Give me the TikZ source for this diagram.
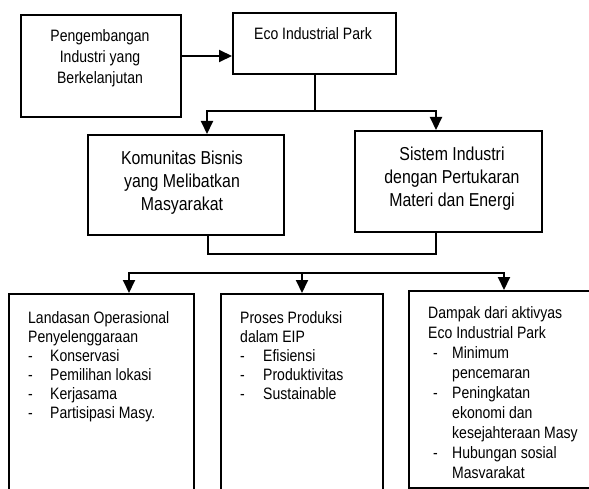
\documentclass[tikz,border=0pt]{standalone}
\usepackage{fontspec}
\setmainfont[FakeStretch=0.85]{Liberation Sans}
\usetikzlibrary{arrows.meta}
\newcommand\itmA[1]{\makebox[22pt][l]{-}#1}
\newcommand\itmB[1]{\makebox[23pt][l]{-}#1}
\newcommand\itmC[1]{\makebox[24pt][l]{\hspace*{5pt}-}#1}
\newcommand\contC[1]{\makebox[24pt]{}#1}
\begin{document}
\begin{tikzpicture}[x=1pt,y=-1pt,
  box/.style={draw,line width=2pt,inner sep=0pt,anchor=north west},
  conn/.style={line width=2pt},
  arr/.style={conn,-{Triangle[length=13pt,width=12pt]}},
  txt/.style={inner sep=0pt,font=\fontsize{16.5}{21}\selectfont,align=center},
  big/.style={inner sep=0pt,font=\fontsize{18.7}{23}\selectfont,align=center},
  lst/.style={inner sep=0pt,anchor=north west,font=\fontsize{16.5}{19}\selectfont,align=left}]
\useasboundingbox (0,0) rectangle (589,489);
\clip (0,0) rectangle (589,489);
% boxes
\node[box,minimum width=160pt,minimum height=102pt] (b1) at (20,14) {};
\node[box,minimum width=163pt,minimum height=61pt] (b2) at (232,12) {};
\node[box,minimum width=196pt,minimum height=100pt] (b3) at (87,134) {};
\node[box,minimum width=187pt,minimum height=101pt] (b4) at (354,130) {};
\node[box,minimum width=185pt,minimum height=210pt] (b5) at (8,293) {};
\node[box,minimum width=162pt,minimum height=210pt] (b6) at (220,293) {};
\node[box,minimum width=190pt,minimum height=197pt] (b7) at (408,290) {};
% texts
\node[txt] (t1) at (100,58) {Pengembangan\\Industri yang\\Berkelanjutan};
\node[txt] (t2) at (313,34) {Eco Industrial Park};
\node[big] (t3) at (182,183) {Komunitas Bisnis\\yang Melibatkan\\Masyarakat};
\node[big] (t4) at (452,179) {Sistem Industri\\dengan Pertukaran\\Materi dan Energi};
\node[lst] (t5) at (28,311) {Landasan Operasional\\Penyelenggaraan\\\itmA{Konservasi}\\\itmA{Pemilihan lokasi}\\\itmA{Kerjasama}\\\itmA{Partisipasi Masy.}};
\node[lst] (t6) at (240,311) {Proses Produksi\\dalam EIP\\\itmB{Efisiensi}\\\itmB{Produktivitas}\\\itmB{Sustainable}};
\node[lst,font=\fontsize{16.5}{20}\selectfont] (t7) at (428,306) {Dampak dari aktivyas\\Eco Industrial Park\\\itmC{Minimum}\\\contC{pencemaran}\\\itmC{Peningkatan}\\\contC{ekonomi dan}\\\contC{kesejahteraan Masy}\\\itmC{Hubungan sosial}\\\contC{Masvarakat}};
% connectors
\coordinate (a1) at ([yshift=10pt]b1.east);
\draw[arr] (a1) -- (a1 -| b2.west);
\coordinate (j1) at (b2.south |- 0,111);
\draw[conn] (b2.south) -- (j1);
\draw[arr] (j1) -| ([xshift=21pt]b3.north);
\draw[arr] (j1) -| ([xshift=-12.5pt]b4.north);
\draw[conn] ([xshift=22pt]b3.south) -- ++(0,18) -| ([xshift=-12.5pt]b4.south);
\coordinate (d) at (b6.north |- 0,273);
\draw[arr] (d) -| ([xshift=27.5pt]b5.north);
\draw[arr] (d) -| (b7.north);
\draw[arr] (d) -- (b6.north);
\end{tikzpicture}
\end{document}
